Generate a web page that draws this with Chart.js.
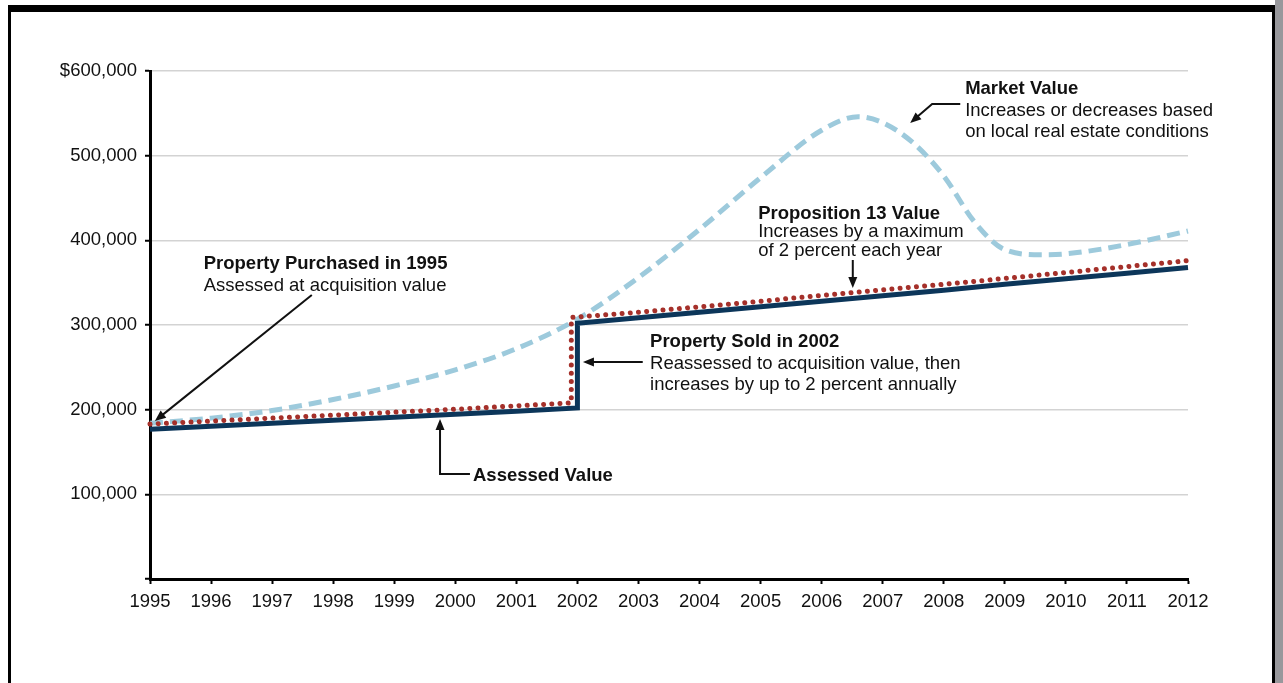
<!DOCTYPE html>
<html>
<head>
<meta charset="utf-8">
<script src="https://cdn.jsdelivr.net/npm/chart.js@4/dist/chart.umd.min.js"></script>
<style>
  html, body { margin: 0; padding: 0; background: #fff; }
  #wrap { position: relative; width: 1283px; height: 683px; overflow: hidden; }
  #frame { position: absolute; left: 8px; top: 5px; width: 1261px; height: 700px;
    border-left: 3px solid #000; border-top: 7px solid #000; border-right: 3px solid #000; pointer-events: none; }
  #edge { position: absolute; left: 1275px; top: 0; width: 8px; height: 683px; background: #98989c; }
</style>
</head>
<body>
<div id="wrap">
  <canvas id="chart" width="1283" height="683"></canvas>
  <div id="frame"></div>
  <div id="edge"></div>
</div>
<script>
// values, dollars
const assessedYears = [1995, 1996, 1997, 1998, 1999, 2000, 2001, 2002, 2002, 2003, 2004, 2005, 2006, 2007, 2008, 2009, 2010, 2011, 2012]
const assessedValues = [177000, 180500, 184000, 187500, 191000, 194500, 198000, 202000, 302000, 308500, 315000, 321500, 328000, 334500, 341000, 348000, 354500, 361000, 368000]

const prop13Years = [1995, 1996, 1997, 1998, 1999, 2000, 2001, 2001.9, 2001.9, 2003, 2004, 2005, 2006, 2007, 2008, 2009, 2010, 2011, 2012]
const prop13Values = [183000, 186500, 190000, 193500, 197000, 200500, 204500, 208000, 309000, 315000, 321500, 328000, 335000, 341500, 348000, 355000, 362000, 369000, 376000]

const marketYears = [1995, 1996, 1997, 1998, 1999, 2000, 2001, 2002, 2003, 2004, 2005, 2006, 2006.6, 2007, 2007.5, 2008, 2008.5, 2009, 2009.6, 2010, 2011, 2012]
const marketValues = [184000, 190000, 199000, 212000, 228000, 247000, 272000, 307000, 356000, 413000, 474000, 530000, 546000, 539000, 515000, 476000, 422000, 389000, 383000, 384000, 395000, 411000]

const yTicks = [0, 100000, 200000, 300000, 400000, 500000, 600000]

// callouts, anchored in data units (year, dollars)
const notes = [
  { x: 2008.35, y: 572800, lh: 21.5, lines: [['Market Value', true], ['Increases or decreases based', false], ['on local real estate conditions', false]],
    arrow: [[2008.27, 561000], [2007.81, 561000], [2007.45, 538600]] },
  { x: 2004.96, y: 425200, lh: 18.5, lines: [['Proposition 13 Value', true], ['Increases by a maximum', false], ['of 2 percent each year', false]],
    arrow: [[2006.51, 376800], [2006.51, 343700]] },
  { x: 1995.88, y: 366100, lh: 22, lines: [['Property Purchased in 1995', true], ['Assessed at acquisition value', false]],
    arrow: [[1997.65, 335400], [1995.08, 186600]] },
  { x: 2003.19, y: 274000, lh: 21.5, lines: [['Property Sold in 2002', true], ['Reassessed to acquisition value, then', false], ['increases by up to 2 percent annually', false]],
    arrow: [[2003.07, 256300], [2002.09, 256300]] },
  { x: 2000.29, y: 115700, lh: 20, lines: [['Assessed Value', true]],
    arrow: [[2000.24, 124000], [1999.75, 124000], [1999.75, 189000]] },
]

const FONT = '"Liberation Sans", Arial, Helvetica, sans-serif'
Chart.defaults.font.family = FONT
Chart.defaults.font.size = 18.5
Chart.defaults.color = '#111'

const toXY = (xs, ys) => xs.map((x, i) => ({ x: x, y: ys[i] }))

const calloutPlugin = {
  id: 'callouts',
  afterDatasetsDraw(chart) {
    const ctx = chart.ctx
    const sx = chart.scales.x
    const sy = chart.scales.y
    ctx.save()
    ctx.fillStyle = '#111'
    ctx.strokeStyle = '#111'
    ctx.textBaseline = 'alphabetic'
    ctx.textAlign = 'left'
    notes.forEach((n) => {
      const px = sx.getPixelForValue(n.x)
      const py = sy.getPixelForValue(n.y)
      n.lines.forEach((l, i) => {
        ctx.font = (l[1] ? 'bold ' : '') + '18.5px ' + FONT
        ctx.fillText(l[0], px, py + i * n.lh)
      })
      const pts = n.arrow.map((p) => [sx.getPixelForValue(p[0]), sy.getPixelForValue(p[1])])
      const tip = pts[pts.length - 1]
      const prev = pts[pts.length - 2]
      const ang = Math.atan2(tip[1] - prev[1], tip[0] - prev[0])
      const hl = 11, hw = 4.5
      ctx.lineWidth = 2
      ctx.beginPath()
      ctx.moveTo(pts[0][0], pts[0][1])
      for (let i = 1; i < pts.length - 1; i++) ctx.lineTo(pts[i][0], pts[i][1])
      ctx.lineTo(tip[0] - Math.cos(ang) * (hl - 2), tip[1] - Math.sin(ang) * (hl - 2))
      ctx.stroke()
      ctx.beginPath()
      ctx.moveTo(tip[0], tip[1])
      ctx.lineTo(tip[0] - Math.cos(ang) * hl - Math.sin(ang) * hw, tip[1] - Math.sin(ang) * hl + Math.cos(ang) * hw)
      ctx.lineTo(tip[0] - Math.cos(ang) * hl + Math.sin(ang) * hw, tip[1] - Math.sin(ang) * hl - Math.cos(ang) * hw)
      ctx.closePath()
      ctx.fill()
    })
    ctx.restore()
  },
}

new Chart(document.getElementById('chart').getContext('2d'), {
  type: 'line',
  data: {
    datasets: [
      {
        label: 'Proposition 13 Value',
        data: toXY(prop13Years, prop13Values),
        borderColor: '#a5302a',
        borderWidth: 5,
        borderDash: [0.01, 8.2],
        borderCapStyle: 'round',
        pointRadius: 0,
        tension: 0,
        order: 0,
        clip: false,
      },
      {
        label: 'Assessed Value',
        data: toXY(assessedYears, assessedValues),
        borderColor: '#0c365a',
        borderWidth: 5,
        borderJoinStyle: 'miter',
        pointRadius: 0,
        tension: 0,
        order: 1,
        clip: false,
      },
      {
        label: 'Market Value',
        data: toXY(marketYears, marketValues),
        borderColor: '#9dcadc',
        borderWidth: 5,
        borderDash: [13, 7],
        pointRadius: 0,
        cubicInterpolationMode: 'monotone',
        order: 2,
        clip: false,
      },
    ],
  },
  options: {
    responsive: false,
    animation: false,
    events: [],
    layout: { padding: { left: 0, top: 71, right: 95, bottom: 0 } },
    plugins: { legend: { display: false }, tooltip: { enabled: false } },
    scales: {
      x: {
        type: 'linear',
        min: 1995,
        max: 2012,
        afterFit(scale) { scale.height = 104 },
        border: { color: '#000', width: 3 },
        grid: { drawOnChartArea: false, drawTicks: true, tickLength: 5, tickColor: '#000', tickWidth: 2 },
        ticks: { stepSize: 1, padding: 7, color: '#111', callback: (v) => String(v) },
      },
      y: {
        min: 0,
        max: 600000,
        afterFit(scale) { scale.width = 150 },
        afterBuildTicks(scale) { scale.ticks = yTicks.map((v) => ({ value: v })) },
        border: { color: '#000', width: 3 },
        grid: { color: '#d3d3d3', lineWidth: 1.5, tickLength: 5, tickColor: '#000', tickWidth: 2 },
        ticks: {
          padding: 8,
          color: '#111',
          callback: (v) => (v === 0 ? '' : v === 600000 ? '$600,000' : v.toLocaleString('en-US')),
        },
      },
    },
  },
  plugins: [calloutPlugin],
})
</script>
</body>
</html>
